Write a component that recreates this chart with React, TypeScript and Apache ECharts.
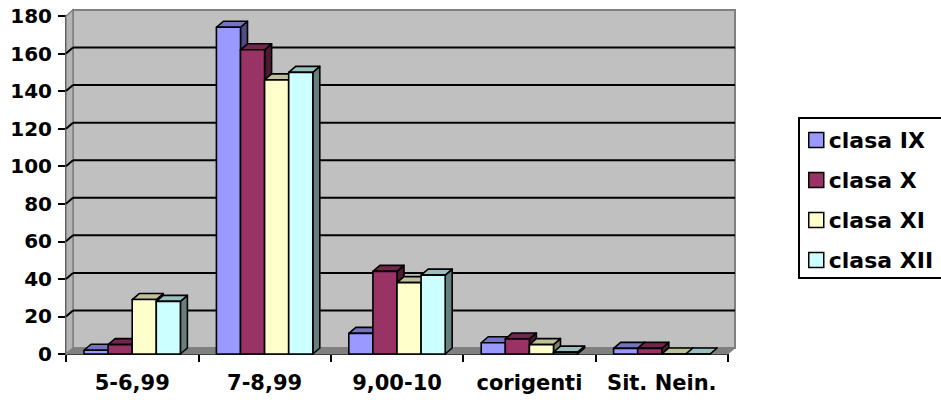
import React, { useEffect, useRef } from 'react';
import * as echarts from 'echarts';

const categories = ['5-6,99', '7-8,99', '9,00-10', 'corigenti', 'Sit. Nein.'];
const seriesNames = ['clasa IX', 'clasa X', 'clasa XI', 'clasa XII'];
const clasaIX = [2, 174, 11, 6, 3];
const clasaX = [5, 162, 44, 8, 3];
const clasaXI = [29, 146, 38, 5, 0];
const clasaXII = [28, 150, 42, 1, 0];
const seriesValues = [clasaIX, clasaX, clasaXI, clasaXII];
const yMin = 0;
const yMax = 180;
const yStep = 20;

const frontColors = ['#9999FF', '#993366', '#FFFFCC', '#CCFFFF'];
const topColors = ['#7373BF', '#73264D', '#BFBF99', '#99BFBF'];
const sideColors = ['#4D4D80', '#4D1A33', '#80806A', '#668080'];

const DX = 7;
const DY = -6;
const FONT = 'DejaVu Sans';

export default function App() {
  const ref = useRef<HTMLDivElement>(null);
  useEffect(() => {
    if (!ref.current) return;
    const chart = echarts.init(ref.current, undefined, { renderer: 'svg' });

    const wallSeries: any = {
      type: 'custom',
      name: 'wall',
      silent: true,
      z: 1,
      data: [[0, 0]],
      encode: { x: 0, y: 1 },
      renderItem: (params: any, api: any) => {
        const catW = api.size([1, 0])[0];
        const x0 = api.coord([0, yMin])[0] - catW / 2;
        const x1 = api.coord([categories.length - 1, yMin])[0] + catW / 2;
        const y0 = api.coord([0, yMin])[1];
        const yT = api.coord([0, yMax])[1];
        const children: any[] = [];
        children.push({
          type: 'polygon',
          shape: { points: [[x0, y0], [x0 + DX, y0 + DY], [x1 + DX, y0 + DY], [x1, y0]] },
          style: { fill: '#808080', stroke: '#808080', lineWidth: 1 },
        });
        children.push({
          type: 'polygon',
          shape: { points: [[x0 + DX, yT + DY], [x1 + DX, yT + DY], [x1 + DX, y0 + DY], [x0 + DX, y0 + DY]] },
          style: { fill: '#C0C0C0', stroke: '#808080', lineWidth: 2 },
        });
        children.push({
          type: 'polygon',
          shape: { points: [[x0, yT], [x0 + DX, yT + DY], [x0 + DX, y0 + DY], [x0, y0]] },
          style: { fill: '#B4B4B4', stroke: '#808080', lineWidth: 1.5 },
        });
        for (let v = yMin + yStep; v < yMax; v += yStep) {
          const y = api.coord([0, v])[1];
          children.push({
            type: 'line',
            shape: { x1: x0 + DX, y1: y + DY, x2: x1 + DX, y2: y + DY },
            style: { stroke: '#000', lineWidth: 2 },
          });
          children.push({
            type: 'line',
            shape: { x1: x0, y1: y, x2: x0 + DX, y2: y + DY },
            style: { stroke: '#000', lineWidth: 2 },
          });
        }
        return { type: 'group', children };
      },
    };

    const barSeries = seriesValues.map((vals, k) => ({
      type: 'custom',
      name: seriesNames[k],
      z: 2 + k,
      itemStyle: { color: frontColors[k] },
      data: vals.map((v, i) => [i, v]),
      encode: { x: 0, y: 1 },
      renderItem: (params: any, api: any) => {
        const cat = api.value(0);
        const v = api.value(1);
        const top = api.coord([cat, v]);
        const bot = api.coord([cat, yMin]);
        const catW = api.size([1, 0])[0];
        const barW = catW * 0.182;
        const x = top[0] - 2 * barW + k * barW;
        const yt = top[1];
        const yb = bot[1];
        const st = (fill: string) => ({ fill, stroke: '#000', lineWidth: 1.6, lineJoin: 'round' });
        return {
          type: 'group',
          children: [
            {
              type: 'polygon',
              shape: { points: [[x + barW, yb], [x + barW + DX, yb + DY], [x + barW + DX, yt + DY], [x + barW, yt]] },
              style: st(sideColors[k]),
            },
            {
              type: 'polygon',
              shape: { points: [[x, yt], [x + DX, yt + DY], [x + barW + DX, yt + DY], [x + barW, yt]] },
              style: st(topColors[k]),
            },
            {
              type: 'rect',
              shape: { x, y: yt, width: barW, height: yb - yt },
              style: st(frontColors[k]),
            },
          ],
        };
      },
    }));

    chart.setOption({
      animation: false,
      backgroundColor: '#FFFFFF',
      grid: { left: 66, right: 213, top: 16, bottom: 48, containLabel: false },
      graphic: [
        {
          type: 'rect',
          silent: true,
          shape: { x: 799, y: 118, width: 220, height: 160 },
          style: { fill: 'none', stroke: '#000', lineWidth: 2 },
        },
      ],
      legend: {
        orient: 'vertical',
        left: 799,
        top: 118,
        padding: [11, 0, 11, 9],
        borderWidth: 0,
        itemWidth: 15,
        itemHeight: 15,
        itemGap: 18,
        selectedMode: false,
        icon: 'rect',
        textStyle: { fontFamily: FONT, fontWeight: 'bold', fontSize: 22, color: '#000', lineHeight: 22 },
        data: seriesNames.map((n, k) => ({
          name: n,
          itemStyle: { color: frontColors[k], borderColor: '#000', borderWidth: 1.5 },
        })),
      },
      xAxis: {
        type: 'category',
        data: categories,
        axisLine: { show: true, lineStyle: { color: '#000', width: 2 } },
        axisTick: { show: true, length: 8, lineStyle: { color: '#000', width: 2 } },
        axisLabel: { interval: 0, margin: 18, fontFamily: FONT, fontWeight: 'bold', fontSize: 21, color: '#000' },
        splitLine: { show: false },
      },
      yAxis: {
        type: 'value',
        min: yMin,
        max: yMax,
        interval: yStep,
        axisLine: { show: true, lineStyle: { color: '#000', width: 2 } },
        axisTick: { show: true, length: 8, lineStyle: { color: '#000', width: 2 } },
        axisLabel: { margin: 14, fontFamily: FONT, fontWeight: 'bold', fontSize: 20, color: '#000' },
        splitLine: { show: false },
      },
      series: [wallSeries, ...barSeries],
    });
    return () => chart.dispose();
  }, []);
  return <div ref={ref} style={{ position: 'absolute', left: 0, top: 0, width: 941, height: 402 }} />;
}
